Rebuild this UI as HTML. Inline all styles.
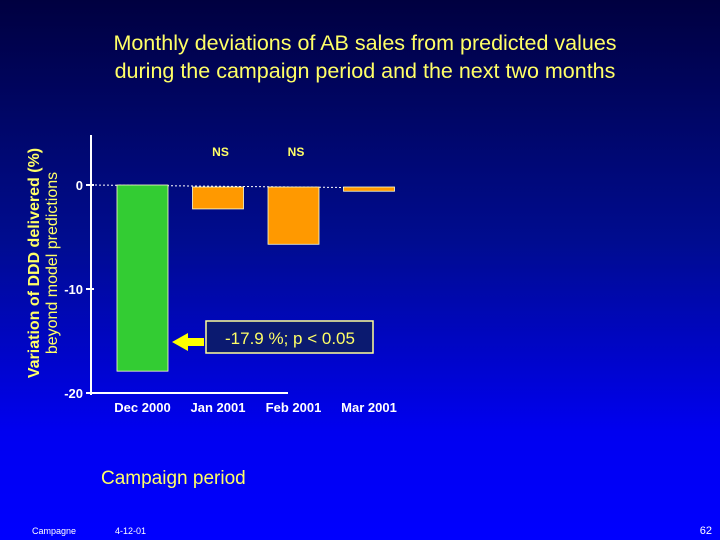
<!DOCTYPE html>
<html><head><meta charset="utf-8"><style>
body{margin:0}
#wrap{position:relative;width:720px;height:540px;overflow:hidden;background:linear-gradient(#000040 0%,#000c90 45%,#0000f0 80%,#0000ff 100%);font-family:"Liberation Sans",sans-serif}
</style></head><body>
<div id="wrap">
<svg width="720" height="540">
<text x="365" y="50" fill="#ffff66" font-size="21.5" text-anchor="middle">Monthly deviations of AB sales  from predicted values</text>
<text x="365" y="78" fill="#ffff66" font-size="21.5" text-anchor="middle">during the campaign period and the next two months</text>
<text transform="translate(39,263) rotate(-90)" fill="#ffff66" font-size="16" font-weight="bold" text-anchor="middle">Variation of DDD delivered (%)</text>
<text transform="translate(57,263) rotate(-90)" fill="#ffff66" font-size="16" text-anchor="middle">beyond model predictions</text>
<g id="axes"></g>
<g id="bars"></g>
<polygon points="172,342 188,333 188,338 204,338 204,346 188,346 188,351" fill="#ffff00"/>
<rect x="206" y="321" width="167" height="32" fill="#0b1a70" stroke="#ffff99" stroke-width="1.5"/>
<text x="290" y="344" fill="#ffff66" font-size="17" text-anchor="middle">-17.9 %; p &lt; 0.05</text>
<text x="101" y="484" fill="#ffff66" font-size="19">Campaign period</text>
<text x="32" y="534" fill="#ffffff" font-size="9">Campagne</text>
<text x="115" y="534" fill="#ffffff" font-size="9">4-12-01</text>
<text x="712" y="534" fill="#ffffff" font-size="11" text-anchor="end">62</text>
</svg>
</div>
<script>
const categories=["Dec 2000","Jan 2001","Feb 2001","Mar 2001"];
const values=[-17.9,-2.3,-5.7,-0.6];
const sigLabels=["","NS","NS",""];
const tickValues=[0,-10,-20];
const tickLabels=["0","-10","-20"];
const NS="http://www.w3.org/2000/svg";
function y2(v){return 185+(-v)*10.4;}
function x(i){return 117+i*75.5;}
function mk(t,a,p){const e=document.createElementNS(NS,t);for(const k in a)e.setAttribute(k,a[k]);p.appendChild(e);return e;}
const ax=document.getElementById('axes'),bg=document.getElementById('bars');
let l=mk('line',{x1:91,y1:135,x2:91,y2:395,stroke:'#fff','stroke-width':2},ax);


l=mk('line',{x1:91,y1:393,x2:288,y2:393,stroke:'#fff','stroke-width':2},ax);


l=mk('line',{x1:91,y1:y2(0),x2:395,y2:y2(0)+3,stroke:'#fff','stroke-width':1,'stroke-dasharray':'2,2'},ax);


tickValues.forEach((v,i)=>{
 const t=mk('line',{x1:86,y1:y2(v),x2:94,y2:y2(v),stroke:'#fff','stroke-width':2},ax);
 
 
 const tx=mk('text',{x:83,y:y2(v)+5,fill:'#fff','font-size':13,'font-weight':'bold','text-anchor':'end'},ax);
 tx.textContent=tickLabels[i];
 
 
});
values.forEach((v,i)=>{
 const top=y2(0)+(i?2:0),bot=y2(v);
 const r=mk('rect',{x:x(i),y:Math.min(top,bot),width:51,height:Math.max(2,Math.abs(bot-top)),fill:i?'#ff9900':'#33cc33',stroke:'#ffffcc','stroke-width':0.8},bg);
 
 
 const c=mk('text',{x:x(i)+25.5,y:412,fill:'#fff','font-size':13,'font-weight':'bold','text-anchor':'middle'},bg);
 c.textContent=categories[i];
 
 
 if(sigLabels[i]){
  const s=mk('text',{x:x(i)+28,y:156,fill:'#ffff66','font-size':12,'font-weight':'bold','text-anchor':'middle'},bg);
  s.textContent=sigLabels[i];
  
  
 }
});
</script>
</body></html>
